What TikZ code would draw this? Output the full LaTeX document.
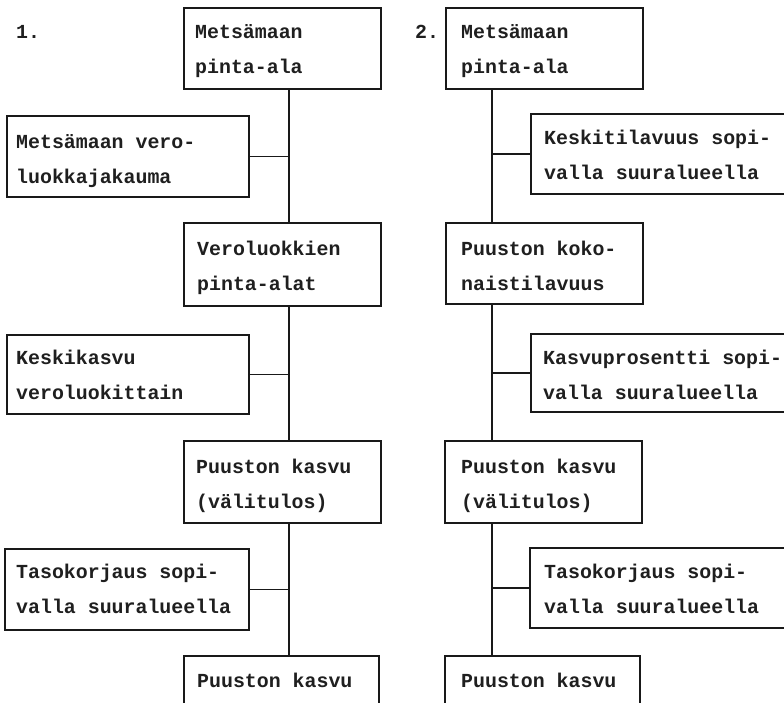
\documentclass[tikz,border=0pt]{standalone}
\usepackage{fontspec}
\setmonofont{Liberation Mono}
\usetikzlibrary{calc}
\tikzset{
  box/.style={draw=black!90, line width=1.6pt, rectangle, inner sep=0pt, anchor=north west},
  txt/.style={anchor=base west, inner sep=0pt, text=black!88, font=\fontsize{19.9}{35}\ttfamily\bfseries},
  conn/.style={draw=black!90, line width=1.6pt}
}
\newcommand{\twol}[2]{\parbox[t]{300pt}{\baselineskip=35pt #1\\#2}}
\begin{document}
\begin{tikzpicture}[x=1pt,y=-1pt]
\useasboundingbox (0,0) rectangle (784,702);
\clip (0,0) rectangle (784,702);
\fill[white] (0,0) rectangle (784,702);
% labels
\node[txt] (l1) at (16,38) {1.};
\node[txt] (l2) at (415,38) {2.};
% left column boxes
\node[box, minimum width=197pt, minimum height=81pt] (a1) at (183,7) {};
\node[box, minimum width=242pt, minimum height=81pt] (b1) at (6,115) {};
\node[box, minimum width=197pt, minimum height=83pt] (c1) at (183,222) {};
\node[box, minimum width=242pt, minimum height=79pt] (d1) at (6,334) {};
\node[box, minimum width=197pt, minimum height=82pt] (e1) at (183,440) {};
\node[box, minimum width=244pt, minimum height=81pt] (f1) at (4,548) {};
\node[box, minimum width=195pt, minimum height=80pt] (g1) at (183,655) {};
% right column boxes
\node[box, minimum width=197pt, minimum height=81pt] (a2) at (445,7) {};
\node[box, minimum width=270pt, minimum height=80pt] (b2) at (530,113) {};
\node[box, minimum width=197pt, minimum height=81pt] (c2) at (445,222) {};
\node[box, minimum width=270pt, minimum height=78pt] (d2) at (530,333) {};
\node[box, minimum width=197pt, minimum height=82pt] (e2) at (444,440) {};
\node[box, minimum width=270pt, minimum height=80pt] (f2) at (529,547) {};
\node[box, minimum width=195pt, minimum height=80pt] (g2) at (444,655) {};
% texts
\node[txt] (ta1) at ($(a1.north west)+(12,31)$) {\twol{Metsämaan}{pinta-ala}};
\node[txt] (tb1) at ($(b1.north west)+(10,33)$) {\twol{Metsämaan vero-}{luokkajakauma}};
\node[txt] (tc1) at ($(c1.north west)+(14,33)$) {\twol{Veroluokkien}{pinta-alat}};
\node[txt] (td1) at ($(d1.north west)+(10,30)$) {\twol{Keskikasvu}{veroluokittain}};
\node[txt] (te1) at ($(e1.north west)+(13,33)$) {\twol{Puuston kasvu}{(välitulos)}};
\node[txt] (tf1) at ($(f1.north west)+(12,30)$) {\twol{Tasokorjaus sopi-}{valla suuralueella}};
\node[txt] (tg1) at ($(g1.north west)+(14,32)$) {Puuston kasvu};
\node[txt] (ta2) at ($(a2.north west)+(16,31)$) {\twol{Metsämaan}{pinta-ala}};
\node[txt] (tb2) at ($(b2.north west)+(14,31)$) {\twol{Keskitilavuus sopi-}{valla suuralueella}};
\node[txt] (tc2) at ($(c2.north west)+(16,33)$) {\twol{Puuston koko-}{naistilavuus}};
\node[txt] (td2) at ($(d2.north west)+(13,31)$) {\twol{Kasvuprosentti sopi-}{valla suuralueella}};
\node[txt] (te2) at ($(e2.north west)+(17,33)$) {\twol{Puuston kasvu}{(välitulos)}};
\node[txt] (tf2) at ($(f2.north west)+(15,31)$) {\twol{Tasokorjaus sopi-}{valla suuralueella}};
\node[txt] (tg2) at ($(g2.north west)+(17,32)$) {Puuston kasvu};
% connectors
\coordinate (v1) at ($(a1.south west)+(106,0)$);
\coordinate (v2) at ($(a2.south west)+(47,0)$);
\draw[conn] (v1) -- (v1 |- c1.north);
\draw[conn] (b1.east) -- (b1.east -| v1);
\draw[conn] (v1 |- c1.south) -- (v1 |- e1.north);
\draw[conn] (d1.east) -- (d1.east -| v1);
\draw[conn] (v1 |- e1.south) -- (v1 |- g1.north);
\draw[conn] (f1.east) -- (f1.east -| v1);
\draw[conn] (v2) -- (v2 |- c2.north);
\draw[conn] (b2.west) -- (b2.west -| v2);
\draw[conn] (v2 |- c2.south) -- (v2 |- e2.north);
\draw[conn] (d2.west) -- (d2.west -| v2);
\draw[conn] (v2 |- e2.south) -- (v2 |- g2.north);
\draw[conn] (f2.west) -- (f2.west -| v2);
\end{tikzpicture}
\end{document}
